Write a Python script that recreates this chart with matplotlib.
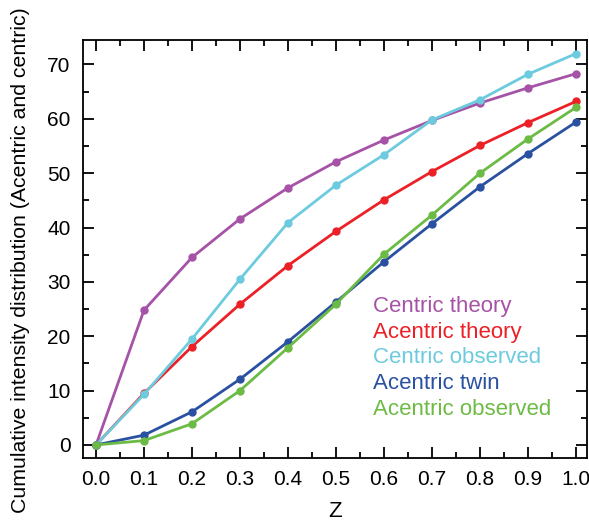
import matplotlib

matplotlib.use("Agg")
import matplotlib.pyplot as plt
from matplotlib.ticker import MultipleLocator

plt.rcParams["font.family"] = ["Liberation Sans", "DejaVu Sans"]

z = [0.0, 0.1, 0.2, 0.3, 0.4, 0.5, 0.6, 0.7, 0.8, 0.9, 1.0]
centric_theory = [0, 24.8, 34.5, 41.6, 47.3, 52.1, 56.1, 59.7, 62.9, 65.7, 68.3]
acentric_theory = [0, 9.5, 18.1, 25.9, 33.0, 39.3, 45.1, 50.3, 55.1, 59.3, 63.2]
centric_observed = [0, 9.3, 19.5, 30.5, 40.9, 47.8, 53.4, 59.8, 63.5, 68.2, 72.0]
acentric_twin = [0, 1.8, 6.1, 12.1, 19.0, 26.3, 33.7, 40.7, 47.5, 53.6, 59.4]
acentric_observed = [0, 0.8, 3.9, 10.0, 17.9, 25.9, 35.1, 42.3, 50.0, 56.3, 62.1]

series = [
    ("Centric theory", centric_theory, "#a652a7"),
    ("Acentric theory", acentric_theory, "#ec2027"),
    ("Centric observed", centric_observed, "#6ccbde"),
    ("Acentric twin", acentric_twin, "#2a51a1"),
    ("Acentric observed", acentric_observed, "#6cbb45"),
]

fig = plt.figure(figsize=(5.89, 5.23), dpi=100)
ax = fig.add_axes([0.141, 0.1243, 0.8556, 0.7992])

for label, values, color in series:
    ax.plot(z, values, color=color, linewidth=2.0, marker="o", markersize=5, label=label)

ax.set_xlim(-0.027, 1.023)
ax.set_ylim(-2.4, 74.5)
ax.xaxis.set_major_locator(MultipleLocator(0.1))
ax.xaxis.set_minor_locator(MultipleLocator(0.05))
ax.yaxis.set_major_locator(MultipleLocator(10))
ax.yaxis.set_minor_locator(MultipleLocator(5))
ax.xaxis.set_major_formatter(lambda v, pos: f"{v:.1f}")
ax.tick_params(which="both", direction="in", top=True, right=True, width=1.3, labelsize=15)
ax.tick_params(which="major", length=8, pad=9)
ax.tick_params(which="minor", length=4)
for spine in ax.spines.values():
    spine.set_linewidth(1.3)

ax.set_xlabel("Z", fontsize=16, labelpad=8)
ax.set_ylabel("Cumulative intensity distribution (Acentric and centric)", fontsize=15.3)
ax.yaxis.set_label_coords(-0.105, 0.474)

leg = ax.legend(loc="upper left", bbox_to_anchor=(0.553, 0.415), frameon=False, fontsize=16,
                handlelength=0, handletextpad=0, labelspacing=0.22, borderpad=0)
for handle, text in zip(leg.legend_handles, leg.get_texts()):
    handle.set_visible(False)
    text.set_color(handle.get_color())

fig.savefig("out.png", dpi=100)
